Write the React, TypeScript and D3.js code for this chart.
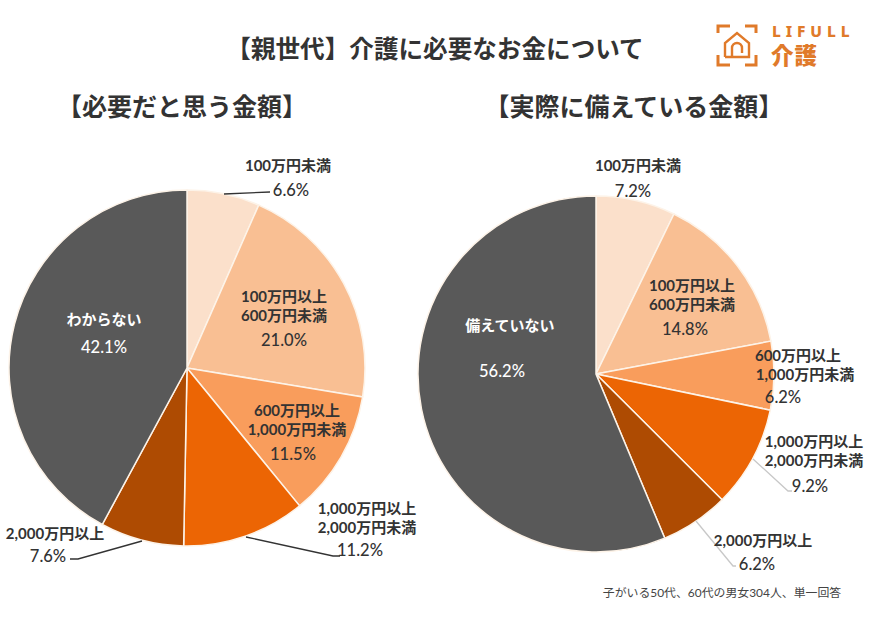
import React from "react";
import * as d3 from "d3";

const categoriesLeft = ["100万円未満", "100万円以上600万円未満", "600万円以上1,000万円未満", "1,000万円以上2,000万円未満", "2,000万円以上", "わからない"];
const valuesLeft = [6.6, 21.0, 11.5, 11.2, 7.6, 42.1];
const categoriesRight = ["100万円未満", "100万円以上600万円未満", "600万円以上1,000万円未満", "1,000万円以上2,000万円未満", "2,000万円以上", "備えていない"];
const valuesRight = [7.2, 14.8, 6.2, 9.2, 6.2, 56.2];
const sliceColors = ["#fbe0cb", "#f9bf93", "#f99d5c", "#ec6504", "#ae4b02", "#595959"];

const FONT = "'Noto Sans CJK JP', 'Noto Sans', sans-serif";
const LABEL_FONT = "Lato, 'Noto Sans CJK JP', sans-serif";
const INK = "#333333";

type Lab = { lines: string[]; xs: number[]; ys: number[]; pct: string; px: number; py: number; color?: string };

const labelsLeft: Lab[] = [
  { lines: ["100万円未満"], xs: [288], ys: [165], pct: "6.6%", px: 291, py: 190 },
  { lines: ["100万円以上", "600万円未満"], xs: [284, 284], ys: [296, 315], pct: "21.0%", px: 284, py: 340 },
  { lines: ["600万円以上", "1,000万円未満"], xs: [297, 297], ys: [410, 429], pct: "11.5%", px: 293, py: 454 },
  { lines: ["1,000万円以上", "2,000万円未満"], xs: [367, 367], ys: [508, 527], pct: "11.2%", px: 360, py: 550 },
  { lines: ["2,000万円以上"], xs: [55], ys: [533], pct: "7.6%", px: 48, py: 556 },
  { lines: ["わからない"], xs: [104], ys: [319], pct: "42.1%", px: 104, py: 347, color: "#ffffff" },
];
const labelsRight: Lab[] = [
  { lines: ["100万円未満"], xs: [638], ys: [165], pct: "7.2%", px: 633, py: 191 },
  { lines: ["100万円以上", "600万円未満"], xs: [692, 692], ys: [285, 304], pct: "14.8%", px: 685, py: 329 },
  { lines: ["600万円以上", "1,000万円未満"], xs: [798, 805], ys: [355, 374], pct: "6.2%", px: 783, py: 397 },
  { lines: ["1,000万円以上", "2,000万円未満"], xs: [814, 814], ys: [441, 460], pct: "9.2%", px: 810, py: 486 },
  { lines: ["2,000万円以上"], xs: [763], ys: [540], pct: "6.2%", px: 757, py: 564 },
  { lines: ["備えていない"], xs: [510], ys: [325], pct: "56.2%", px: 502, py: 371, color: "#ffffff" },
];

const leaderLeft: [number, number][][] = [
  [[224, 194], [270, 192]],
  [[246, 537], [333, 556], [340, 556]],
  [[142, 541], [78, 559], [70, 559]],
];
const leaderRight: [number, number][][] = [
  [[753, 459], [788, 491], [792, 491]],
  [[696, 521], [733, 566], [736, 566]],
];

function Pie({ cx, cy, r, values, cats, labels, leaders, leaderColor }: { cx: number; cy: number; r: number; values: number[]; cats: string[]; labels: Lab[]; leaders: [number, number][][]; leaderColor: string }) {
  const arcs = d3.pie<number>().value((d) => d).sort(null)(values);
  const arc = d3.arc<d3.PieArcDatum<number>>().innerRadius(0).outerRadius(r);
  const line = d3.line();
  return (
    <g>
      <g transform={`translate(${cx},${cy})`}>
        {arcs.map((a, i) => (
          <path key={cats[i]} d={arc(a) ?? ""} fill={sliceColors[i]} stroke="#fdf3e8" strokeWidth={1.5} />
        ))}
      </g>
      {leaders.map((l, i) => (
        <path key={i} d={line(l) ?? ""} fill="none" stroke={leaderColor} strokeWidth={1.3} />
      ))}
      {labels.map((l, i) => (
        <g key={i} fontFamily={LABEL_FONT} textAnchor="middle" fill={l.color ?? INK} fontWeight={700}>
          {l.lines.map((t, j) => (
            <text key={j} x={l.xs[j]} y={l.ys[j]} fontSize={15} dominantBaseline="central">{t}</text>
          ))}
          <text x={l.px} y={l.py} fontSize={16.5} fontWeight={500} dominantBaseline="central">{l.pct}</text>
        </g>
      ))}
    </g>
  );
}

function Logo() {
  const c = "#e07a2a";
  return (
    <g>
      <g fill="none" stroke={c} strokeWidth={3}>
        <path d="M718 33 V26 H730" />
        <path d="M745 26 H756 V33" />
        <path d="M718 55 V65 H730" />
        <path d="M745 65 H756 V55" />
        <path d="M725 57 V43 L737 33 L749 43 V57 H725" strokeWidth={2.4} />
        <path d="M732 57 V48 A5 5 0 0 1 742 48 V53" strokeWidth={2.4} />
      </g>
      <text x={772} y={37} fontFamily="'Noto Sans', sans-serif" fontWeight={800} fontSize={15.5} letterSpacing={4.9} fill={c}>LIFULL</text>
      <text x={771} y={64} fontFamily={FONT} fontWeight={900} fontSize={22.5} fill={c} letterSpacing={1}>介護</text>
    </g>
  );
}

export default function App() {
  return (
    <svg width={870} height={621} style={{ position: "absolute", left: 0, top: 0, background: "#ffffff" }}>
      <rect width={870} height={621} fill="#ffffff" />
      <text x={435} y={47} textAnchor="middle" dominantBaseline="central" fontFamily={FONT} fontWeight={700} fontSize={24.6} fill={INK}>【親世代】介護に必要なお金について</text>
      <text x={182} y={105} textAnchor="middle" dominantBaseline="central" fontFamily={FONT} fontWeight={700} fontSize={25} fill={INK}>【必要だと思う金額】</text>
      <text x={634} y={105} textAnchor="middle" dominantBaseline="central" fontFamily={FONT} fontWeight={700} fontSize={25} fill={INK}>【実際に備えている金額】</text>
      <Logo />
      <Pie cx={187} cy={368} r={178} values={valuesLeft} cats={categoriesLeft} labels={labelsLeft} leaders={leaderLeft} leaderColor="#333333" />
      <Pie cx={596} cy={374} r={178} values={valuesRight} cats={categoriesRight} labels={labelsRight} leaders={leaderRight} leaderColor="#c8c8c8" />
      <text x={722} y={592} textAnchor="middle" dominantBaseline="central" fontFamily={LABEL_FONT} fontSize={11.9} fill="#444444">子がいる50代、60代の男女304人、単一回答</text>
    </svg>
  );
}
